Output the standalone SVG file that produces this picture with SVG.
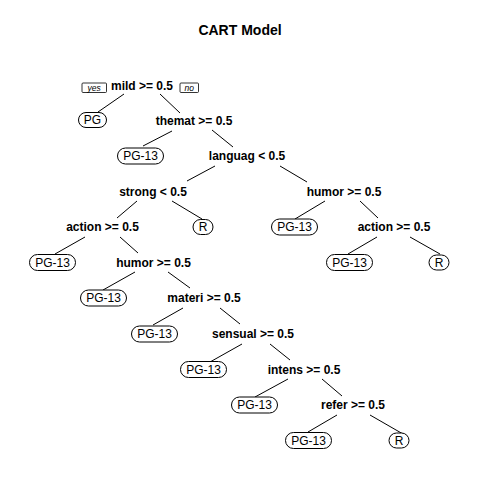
<svg xmlns="http://www.w3.org/2000/svg" width="480" height="480" viewBox="0 0 480 480">
<style>
.title{font-family:"Liberation Sans",Arial,sans-serif;font-size:14px;font-weight:bold;text-anchor:middle;fill:#000}
.split{font-family:"Liberation Sans",Arial,sans-serif;font-size:12px;font-weight:bold;text-anchor:middle;fill:#000}
.leaf text{font-family:"Liberation Sans",Arial,sans-serif;font-size:12px;text-anchor:middle;fill:#000}
.leaf rect{fill:#fff;stroke:#000;stroke-width:1}
.yn rect{fill:#fff;stroke:#000;stroke-width:0.8}
.yn text{font-family:"Liberation Sans",Arial,sans-serif;font-size:8.5px;font-style:italic;text-anchor:middle;fill:#000}
#connectors line{stroke:#000;stroke-width:1}
</style>
<rect width="480" height="480" fill="#fff"/>
<text class="title" x="240" y="35">CART Model</text>

<g id="connectors">
<line x1="124" y1="94" x2="98" y2="112"/>
<line x1="160" y1="94" x2="180" y2="113"/>
<line x1="172" y1="131" x2="143" y2="146"/>
<line x1="212" y1="130" x2="233" y2="147"/>
<line x1="215" y1="166" x2="187" y2="181"/>
<line x1="280" y1="166" x2="307" y2="182"/>
<line x1="137" y1="201" x2="117" y2="218"/>
<line x1="172" y1="201" x2="202" y2="219"/>
<line x1="85" y1="237" x2="55" y2="254"/>
<line x1="120" y1="237" x2="138" y2="253"/>
<line x1="135" y1="272" x2="103" y2="290"/>
<line x1="168" y1="272" x2="190" y2="288"/>
<line x1="183" y1="308" x2="153" y2="325"/>
<line x1="220" y1="308" x2="240" y2="324"/>
<line x1="325" y1="201" x2="295" y2="219"/>
<line x1="360" y1="201" x2="378" y2="218"/>
<line x1="377" y1="237" x2="348" y2="254"/>
<line x1="410" y1="237" x2="440" y2="254"/>
<line x1="242" y1="344" x2="210" y2="362"/>
<line x1="270" y1="344" x2="290" y2="360"/>
<line x1="288" y1="379" x2="255" y2="397"/>
<line x1="322" y1="379" x2="342" y2="396"/>
<line x1="337" y1="415" x2="308" y2="432"/>
<line x1="370" y1="415" x2="403" y2="434"/>
</g>

<g id="yes" class="yn"><rect x="82" y="83" width="24.5" height="9.5" rx="1"/><text x="94.2" y="91">yes</text></g>
<g id="no" class="yn"><rect x="180" y="83" width="18.5" height="9.5" rx="1"/><text x="189.2" y="91">no</text></g>

<g id="n_mild"><text class="split" x="142" y="90">mild &gt;= 0.5</text></g>
<g id="n_themat"><text class="split" x="194" y="125">themat &gt;= 0.5</text></g>
<g id="n_languag"><text class="split" x="247" y="160">languag &lt; 0.5</text></g>
<g id="n_strong"><text class="split" x="153" y="195.5">strong &lt; 0.5</text></g>
<g id="n_humorR"><text class="split" x="344" y="195.5">humor &gt;= 0.5</text></g>
<g id="n_actionL"><text class="split" x="102.5" y="231">action &gt;= 0.5</text></g>
<g id="n_actionR"><text class="split" x="394" y="231">action &gt;= 0.5</text></g>
<g id="n_humorL"><text class="split" x="153.5" y="266.5">humor &gt;= 0.5</text></g>
<g id="n_materi"><text class="split" x="204" y="302">materi &gt;= 0.5</text></g>
<g id="n_sensual"><text class="split" x="253" y="338">sensual &gt;= 0.5</text></g>
<g id="n_intens"><text class="split" x="304" y="373.5">intens &gt;= 0.5</text></g>
<g id="n_refer"><text class="split" x="353" y="409">refer &gt;= 0.5</text></g>

<g id="l_pg" class="leaf"><rect x="78.5" y="112.5" width="28" height="15" rx="7.5"/><text x="92.5" y="124.2">PG</text></g>
<g id="l_pg13a" class="leaf"><rect x="117.5" y="148" width="46" height="16" rx="8"/><text x="140.5" y="160.3">PG-13</text></g>
<g id="l_r1" class="leaf"><rect x="193" y="219.5" width="20" height="15" rx="7.5"/><text x="203" y="231.2">R</text></g>
<g id="l_pg13b" class="leaf"><rect x="271.5" y="219" width="46" height="16" rx="8"/><text x="294.5" y="231.3">PG-13</text></g>
<g id="l_pg13c" class="leaf"><rect x="29.5" y="254.5" width="46" height="16" rx="8"/><text x="52.5" y="266.8">PG-13</text></g>
<g id="l_pg13d" class="leaf"><rect x="326.5" y="254.5" width="46" height="16" rx="8"/><text x="349.5" y="266.8">PG-13</text></g>
<g id="l_r2" class="leaf"><rect x="429" y="255" width="20" height="15" rx="7.5"/><text x="439" y="266.7">R</text></g>
<g id="l_pg13e" class="leaf"><rect x="80.5" y="290" width="46" height="16" rx="8"/><text x="103.5" y="302.3">PG-13</text></g>
<g id="l_pg13f" class="leaf"><rect x="131.5" y="326" width="46" height="16" rx="8"/><text x="154.5" y="338.3">PG-13</text></g>
<g id="l_pg13g" class="leaf"><rect x="180.5" y="361.5" width="46" height="16" rx="8"/><text x="203.5" y="373.8">PG-13</text></g>
<g id="l_pg13h" class="leaf"><rect x="231.5" y="397" width="46" height="16" rx="8"/><text x="254.5" y="409.3">PG-13</text></g>
<g id="l_pg13i" class="leaf"><rect x="285.5" y="432.5" width="46" height="16" rx="8"/><text x="308.5" y="444.8">PG-13</text></g>
<g id="l_r3" class="leaf"><rect x="389" y="433" width="20" height="15" rx="7.5"/><text x="399" y="444.7">R</text></g>
</svg>
